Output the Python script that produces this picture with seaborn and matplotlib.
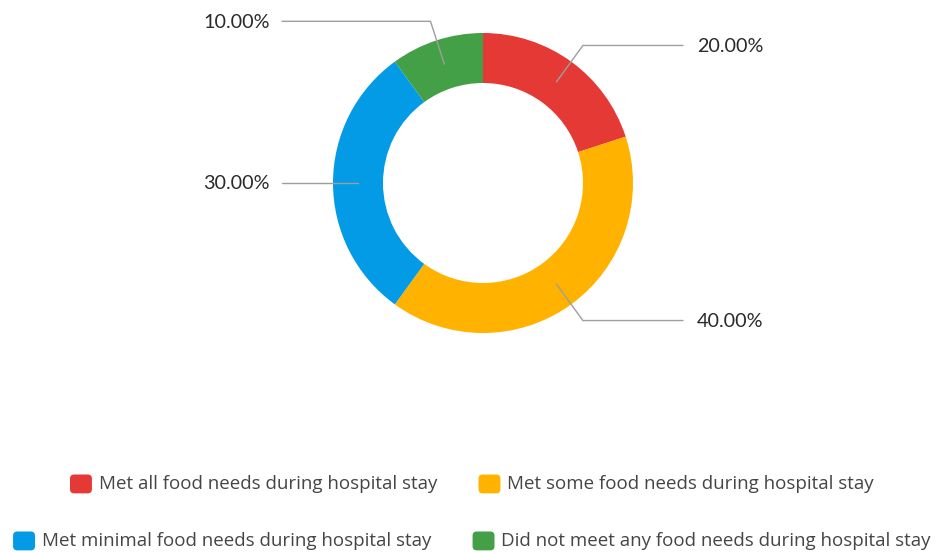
import matplotlib
matplotlib.use('Agg')
import matplotlib.pyplot as plt
import seaborn as sns
import numpy as np
from matplotlib.patches import Patch, FancyBboxPatch
from matplotlib.legend_handler import HandlerPatch

# data
categories = [
    'Met all food needs during hospital stay',
    'Met some food needs during hospital stay',
    'Met minimal food needs during hospital stay',
    'Did not meet any food needs during hospital stay',
]
shares = [20.0, 40.0, 30.0, 10.0]
colors = ['#E53935', '#FFB300', '#039BE5', '#43A047']

sns.set_theme(style='white')
plt.rcParams['font.family'] = ['Lato', 'DejaVu Sans']

W, H = 935, 552
fig = plt.figure(figsize=(W / 100, H / 100), dpi=100)
ax = fig.add_axes([0, 0, 1, 1])

# donut, in pixel-like data units
cx, cy, R, ring = 483, H - 183, 150, 50
wedges, _ = ax.pie(shares, colors=colors, startangle=90, counterclock=False,
                   center=(cx, cy), radius=R,
                   wedgeprops=dict(width=ring, edgecolor='none'))
ax.set_xlim(0, W)
ax.set_ylim(0, H)
ax.set_aspect('auto')
ax.axis('off')

# leader lines + percentage labels
for w, v in zip(wedges, shares):
    ang = np.deg2rad((w.theta1 + w.theta2) / 2)
    r0, r1 = R - ring / 2, R + 20
    x0, y0 = cx + r0 * np.cos(ang), cy + r0 * np.sin(ang)
    x1, y1 = cx + r1 * np.cos(ang), cy + r1 * np.sin(ang)
    right = np.cos(ang) >= 0
    x2 = 683 if right else 282
    ax.plot([x0, x1, x2], [y0, y1, y1], color='#9e9e9e', lw=1, solid_joinstyle='miter')
    ax.text(x2 + 14 if right else x2 - 12, y1 - 1, f'{v:.2f}%', fontsize=14.2,
            color='#2a2a2a', ha='left' if right else 'right', va='center')


class RoundBox(HandlerPatch):
    def create_artists(self, legend, orig_handle, xdescent, ydescent,
                       width, height, fontsize, trans):
        p = FancyBboxPatch((-xdescent, -ydescent - 1), width, height,
                           boxstyle='round,pad=0,rounding_size=3',
                           facecolor=orig_handle.get_facecolor(),
                           edgecolor='none', transform=trans)
        return [p]


handles = [Patch(facecolor=c) for c in colors]
legend_kw = dict(frameon=False, ncol=2, loc='center',
                 prop={'family': ['Open Sans', 'DejaVu Sans'], 'size': 13.5},
                 handlelength=1.17, handleheight=1.17, handletextpad=0.37,
                 columnspacing=2.2, borderpad=0,
                 handler_map={Patch: RoundBox()})
for row, ypix in [(0, 483), (1, 540)]:
    leg = fig.legend(handles[2 * row:2 * row + 2], categories[2 * row:2 * row + 2],
                     bbox_to_anchor=(472 / W, 1 - ypix / H), **legend_kw)
    for t in leg.get_texts():
        t.set_color('#454545')

fig.savefig('out.png', dpi=100)
